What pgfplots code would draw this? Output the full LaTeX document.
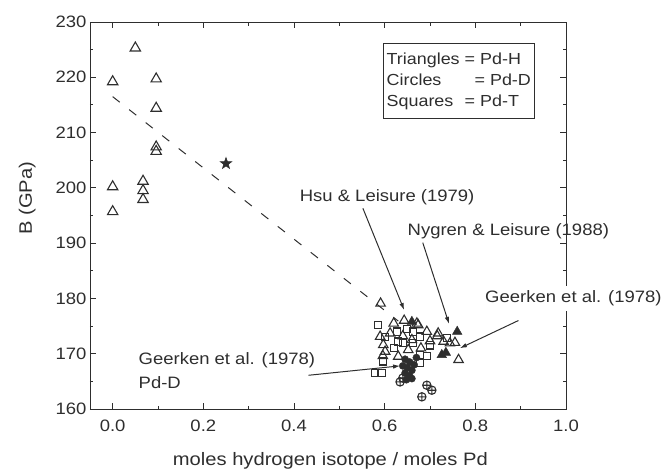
\documentclass[border=0pt]{standalone}
\usepackage{fontspec}
\setmainfont{Liberation Sans}[FakeStretch=1.12]
\usepackage{pgfplots}
\pgfplotsset{compat=1.18}
\usetikzlibrary{arrows.meta}
\newcommand\fs[1]{\fontsize{#1bp}{#1bp}\selectfont}
\definecolor{ink}{gray}{0.18}
\pgfdeclareplotmark{fstar}{%
  \pgfpathmoveto{\pgfqpointpolar{90}{\pgfplotmarksize}}%
  \pgfpathlineto{\pgfpointscale{0.40}{\pgfqpointpolar{126}{\pgfplotmarksize}}}%
  \pgfpathlineto{\pgfqpointpolar{162}{\pgfplotmarksize}}%
  \pgfpathlineto{\pgfpointscale{0.40}{\pgfqpointpolar{198}{\pgfplotmarksize}}}%
  \pgfpathlineto{\pgfqpointpolar{234}{\pgfplotmarksize}}%
  \pgfpathlineto{\pgfpointscale{0.40}{\pgfqpointpolar{270}{\pgfplotmarksize}}}%
  \pgfpathlineto{\pgfqpointpolar{306}{\pgfplotmarksize}}%
  \pgfpathlineto{\pgfpointscale{0.40}{\pgfqpointpolar{342}{\pgfplotmarksize}}}%
  \pgfpathlineto{\pgfqpointpolar{18}{\pgfplotmarksize}}%
  \pgfpathlineto{\pgfpointscale{0.40}{\pgfqpointpolar{54}{\pgfplotmarksize}}}%
  \pgfpathclose
  \pgfusepathqfillstroke}
\begin{document}
\begin{tikzpicture}
\begin{axis}[at={(0,0)}, anchor=south west, scale only axis,
  width=476bp, height=387bp,
  xmin=-0.05, xmax=1.0, ymin=160, ymax=230,
  xtick={0,0.2,0.4,0.6,0.8,1.0}, minor x tick num=1,
  ytick={160,170,...,230}, minor y tick num=1,
  tick align=inside, xtick pos=both, ytick pos=both,
  major tick length=6bp, minor tick length=3.5bp,
  axis line style={ink, line width=0.9pt},
  every tick/.style={ink, line width=0.9pt},
  /pgf/number format/assume math mode=true,
  tick label style={font=\fs{16.5}, text=ink},
  x tick label style={yshift=-7bp, /pgf/number format/.cd, fixed, fixed zerofill, precision=1, /tikz/.cd},
  xlabel={moles hydrogen isotope / moles Pd}, ylabel={B (GPa)},
  every axis x label/.style={at={(axis description cs:0.505,-0.134)}, anchor=center, font=\fs{18}, text=ink},
  every axis y label/.style={at={(axis description cs:-0.132,0.545)}, rotate=90, anchor=center, font=\fs{18}, text=ink},
  clip=false,
]
% dashed trend line
\addplot[ink, line width=1pt, dash pattern=on 9bp off 12bp] coordinates {(0,216.5) (0.63,175.9)};
% open triangles, Pd-H (low x)
\addplot[only marks, mark=triangle, mark size=6, mark options={ink, line width=1.1pt}] coordinates {
(0,219.2) (0.05,225.3) (0.096,219.7) (0.096,214.4) (0.096,207.4) (0.096,206.6)
(0,200.2) (0,195.7) (0.067,201.2) (0.067,199.5) (0.067,197.9)};
% open squares, Pd-T
\addplot[only marks, mark=square, mark size=3.6, mark options={ink, line width=1.1pt, fill=white}] coordinates {
(0.586,175.2) (0.579,166.5) (0.593,166.5) (0.597,168.6) (0.627,174.0) (0.63,172.2)
(0.663,174.0) (0.678,173.1) (0.663,171.9) (0.737,172.8) (0.678,169.8) (0.678,168.3)
(0.641,171.9) (0.693,169.6) (0.62,171.0) (0.70,171.5) (0.65,174.5) (0.60,173.0)};
% open triangles, cluster
\addplot[only marks, mark=triangle, mark size=5.5, mark options={ink, line width=1.1pt, fill=white}] coordinates {
(0.591,179.1) (0.643,176.0) (0.671,175.5) (0.693,174.0) (0.59,173.1) (0.612,173.7)
(0.652,170.7) (0.718,173.7) (0.744,171.9) (0.763,168.9) (0.601,170.4) (0.597,171.6)
(0.674,175.2) (0.716,173.2) (0.755,172.0) (0.596,169.6) (0.66,172.5) (0.70,172.3)
(0.63,169.5) (0.62,175.5) (0.68,171.0) (0.73,172.2) (0.64,173.2)};
% filled circles, Pd-D
\addplot[only marks, mark=*, mark size=3.6, mark options={ink, fill=ink}] coordinates {
(0.645,169.0) (0.655,168.5) (0.65,167.5) (0.66,167.0) (0.645,166.5) (0.655,166.0)
(0.665,168.0) (0.64,167.8) (0.67,169.3) (0.66,165.5) (0.648,165.3)};
% crossed circles
\addplot[only marks, mark=oplus, mark size=4.2, mark options={ink, line width=1.1pt, fill=black!45}] coordinates {
(0.634,164.9) (0.64,165.6) (0.693,164.3) (0.704,163.4) (0.682,162.2)};
% filled triangles
\addplot[only marks, mark=triangle*, mark size=5.5, mark options={ink, fill=ink}] coordinates {
(0.760,174.0) (0.726,169.8) (0.735,170.2) (0.66,175.8)};
% star
\addplot[only marks, mark=fstar, mark size=6, mark options={ink, fill=ink, line width=0.6pt}] coordinates {(0.25,204.4)};

% annotations
\node[anchor=west, font=\fs{16.5}, text=ink] at (axis cs:0.405,198.3) {Hsu \& Leisure (1979)};
\node[anchor=west, font=\fs{16.5}, text=ink] at (axis cs:0.643,192.2) {Nygren \& Leisure (1988)};
\node[anchor=west, font=\fs{16.5}, text=ink, fill=white, inner sep=2bp, inner ysep=5bp] at (axis cs:0.817,180.0) {Geerken et al. (1978)};
\node[anchor=west, font=\fs{16.5}, text=ink, inner sep=0pt] at (axis cs:0.057,168.9) {Geerken et al. (1978)};
\node[anchor=west, font=\fs{16.5}, text=ink, inner sep=0pt] at (axis cs:0.057,164.8) {Pd-D};
\draw[ink, line width=1pt, -{Latex[length=7bp,width=4.5bp]}] (axis cs:0.552,196.3) -- (axis cs:0.643,177.9);
\draw[ink, line width=1pt, -{Latex[length=7bp,width=4.5bp]}] (axis cs:0.684,190.1) -- (axis cs:0.742,175.4);
\draw[ink, line width=1pt, -{Latex[length=7bp,width=4.5bp]}] (axis cs:0.895,176.0) -- (axis cs:0.766,171.0);
\draw[ink, line width=1pt, -{Latex[length=7bp,width=4.5bp]}] (axis cs:0.432,166.1) -- (axis cs:0.634,167.8);
\node[draw=ink, line width=0.9pt, fill=white, anchor=north west, minimum width=151bp, minimum height=75bp, font=\fontsize{16bp}{21bp}\selectfont, text=ink, align=left]
  at (axis cs:0.596,226.2) {\begin{tabular}{@{}l@{\ }l@{}}Triangles & = Pd-H\\ Circles & \ \ = Pd-D\\ Squares & = Pd-T\end{tabular}};
\end{axis}
\pgfresetboundingbox
\path[use as bounding box] (-90bp,-61bp) rectangle (574bp,409bp);
\end{tikzpicture}
\end{document}
